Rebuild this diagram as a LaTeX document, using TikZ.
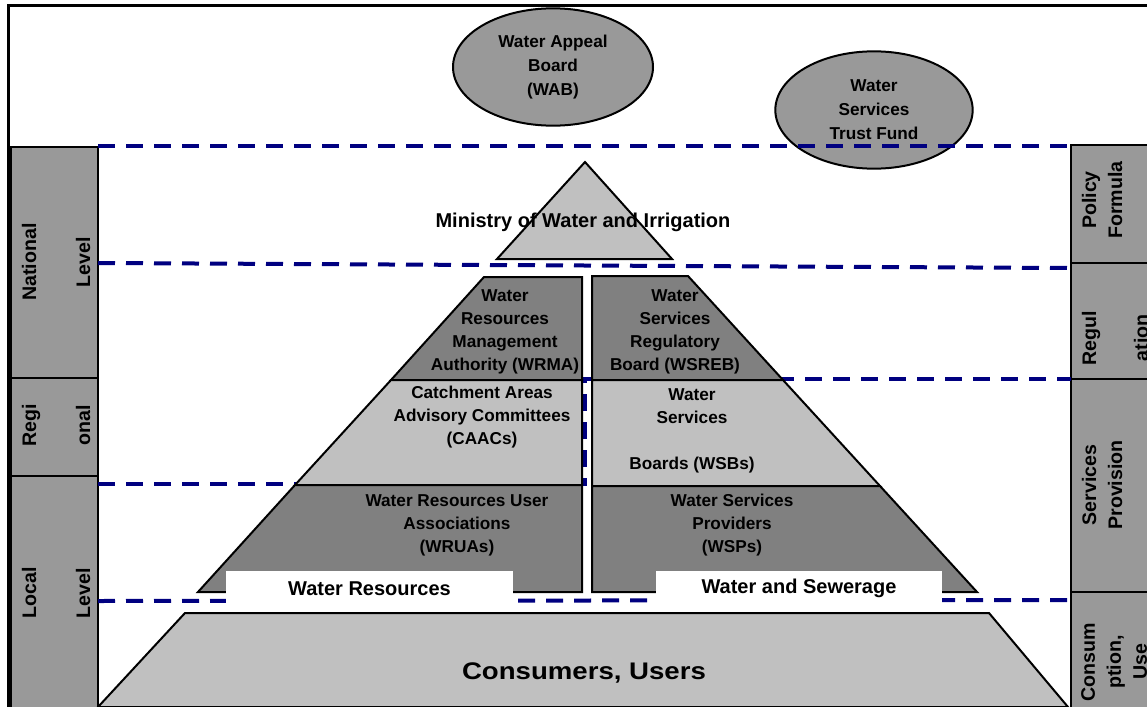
\documentclass[tikz,border=0pt]{standalone}
\usepackage{fontspec}
\setmainfont{Liberation Sans}
\usetikzlibrary{shapes.geometric}

\definecolor{darkblock}{HTML}{808080}
\definecolor{lightblock}{HTML}{C0C0C0}
\definecolor{sidegray}{HTML}{999999}
\definecolor{levelnavy}{HTML}{000080}

\begin{document}
\begin{tikzpicture}[x = 0.75pt, y = -0.75pt,
        block/.style = {draw = black, line width = 1.5pt, line join = miter},
        blocktext/.style = {font = \bfseries\fontsize{12.9pt}{17.25pt}\selectfont, align = center, inner sep = 0pt},
        sidebox/.style = {draw = black, line width = 1.5pt, fill = sidegray},
        lefttext/.style = {font = \bfseries\fontsize{14.7pt}{40.5pt}\selectfont, align = center, rotate = 90, inner sep = 0pt},
        righttext/.style = {font = \bfseries\fontsize{14.7pt}{19.5pt}\selectfont, align = center, rotate = 90, inner sep = 0pt},
        levelline/.style = {draw = levelnavy, line width = 3pt, dash pattern = on 12.75pt off 8.25pt},
        bubble/.style = {ellipse, draw = black, line width = 1.5pt, fill = sidegray, align = center, inner sep = 0pt,
                         minimum width = 150pt, minimum height = 88pt, font = \bfseries\fontsize{12.9pt}{18pt}\selectfont},
        tag/.style = {fill = white, inner sep = 0pt, minimum height = 26pt, font = \bfseries\fontsize{15pt}{18pt}\selectfont}]
    \useasboundingbox (0,0) rectangle (1147,707);
    \clip (0,0) rectangle (1147,707);

    \draw[line width = 2.25pt] (8.5,720) -- (8.5,5) -- (1160,5);

    \draw[sidebox] (11,147) rectangle (98,378);
    \draw[sidebox] (11,378) rectangle (98,476);
    \draw[sidebox] (11,476) rectangle (98,720);
    \node[lefttext] (national) at (56,262) {National\\Level};
    \node[lefttext] (regional) at (56,425) {Regi\\onal};
    \node[lefttext] (local) at (56,593) {Local\\Level};

    \draw[sidebox] (1071,145) rectangle (1170,263);
    \draw[sidebox] (1071,263) rectangle (1170,379);
    \draw[sidebox] (1071,379) rectangle (1170,592);
    \draw[sidebox] (1071,592) rectangle (1170,720);
    \node[righttext] (policy) at (1102,200) {Policy\\Formula};
    \node[righttext] (regulation) at (1115,338) {Regul\\ \\ation};
    \node[righttext] (provision) at (1102,485) {Services\\Provision};
    \node[righttext] (consumption) at (1114,662) {Consum\\ption,\\Use};

    \node[bubble] (wab) at (553,67) {Water Appeal\\Board\\(WAB)};
    \node[bubble, minimum width = 148pt] (wstf) at (874,110) {Water\\Services\\Trust Fund};

    \draw[levelline] (98,146) -- (1071,146);
    \draw[levelline] (98,263) -- (1071,268);
    \draw[levelline] (98,484) -- (585,484) -- (585,379) -- (1071,379);
    \draw[levelline] (98,601) -- (1071,600);

    \draw[block, fill = lightblock] (585,162) -- (672,259) -- (497,259) -- cycle;
    \node[font = \bfseries\fontsize{15pt}{18pt}\selectfont] (ministry) at (583,222) {Ministry of Water and Irrigation};

    \draw[block, fill = darkblock] (484,277) -- (582,277) -- (582,380) -- (391,380) -- cycle;
    \draw[block, fill = lightblock] (391,380) -- (582,380) -- (582,485) -- (295,485) -- cycle;
    \draw[block, fill = darkblock] (295,485) -- (582,485) -- (582,592) -- (198,592) -- cycle;
    \node[blocktext] (wrma) at (505,332) {Water\\Resources\\Management\\Authority (WRMA)};
    \node[blocktext] (caac) at (482,417) {Catchment Areas\\Advisory Committees\\(CAACs)};
    \node[blocktext] (wrua) at (457,525) {Water Resources User\\Associations\\(WRUAs)};

    \draw[block, fill = darkblock] (592,276) -- (688,276) -- (783,380) -- (592,380) -- cycle;
    \draw[block, fill = lightblock] (592,380) -- (783,380) -- (880,486) -- (592,486) -- cycle;
    \draw[block, fill = darkblock] (592,486) -- (880,486) -- (977,592) -- (592,592) -- cycle;
    \node[blocktext] (wsreb) at (675,332) {Water\\Services\\Regulatory\\Board (WSREB)};
    \node[blocktext] (wsb) at (692,431) {Water\\Services\\ \\Boards (WSBs)};
    \node[blocktext] (wsp) at (732,525) {Water Services\\Providers\\(WSPs)};

    \node[tag, minimum width = 215.25pt] (resources) at (369.5,588.5) {Water Resources};
    \node[tag, minimum width = 214.5pt] (sewerage) at (799,588.5) {Water and Sewerage};

    \draw[block, fill = lightblock] (185,613) -- (989,613) -- (1068,707) -- (98,707) -- cycle;
    \node[font = \bfseries\fontsize{18pt}{21pt}\selectfont, xscale = 1.15] (consumers) at (584,673) {Consumers, Users};
\end{tikzpicture}
\end{document}
